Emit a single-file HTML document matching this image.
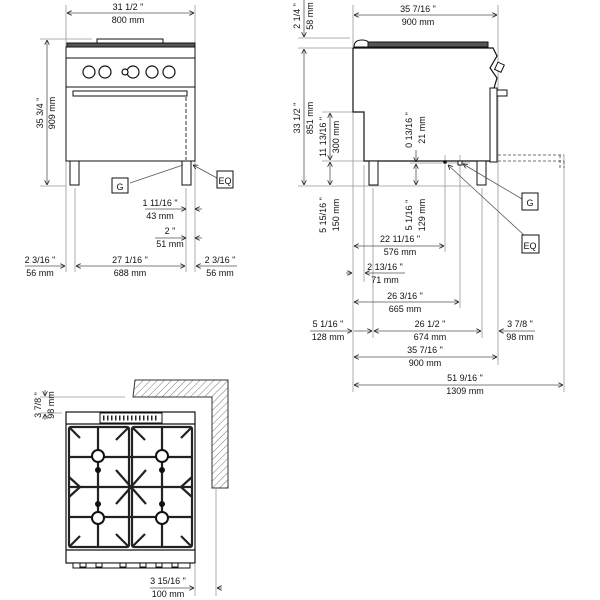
<!DOCTYPE html>
<html><head><meta charset="utf-8"><style>
html,body{margin:0;padding:0;background:#fff}
svg{display:block}
text{font-family:"Liberation Sans",sans-serif;font-size:9px;fill:#111}
.l{stroke:#999;stroke-width:.8;fill:none}
.k{stroke:#111;stroke-width:1.2;fill:none}
.d{stroke:#555;stroke-width:.8;fill:none}
.g{stroke:#222;stroke-width:2.2;fill:none}
</style></head><body>
<svg width="600" height="600" viewBox="0 0 600 600" xmlns="http://www.w3.org/2000/svg">
<defs>
<marker id="a" markerWidth="6" markerHeight="6" refX="6" refY="3" orient="auto-start-reverse"><path d="M0,0 L6,3 L0,6" fill="none" stroke="#222" stroke-width="1"/></marker>
<pattern id="h" width="5" height="5" patternUnits="userSpaceOnUse" patternTransform="rotate(45)"><line x1="0" y1="0" x2="0" y2="5" stroke="#555" stroke-width="0.8"/></pattern>
</defs>

<!-- ===== FRONT VIEW ===== -->
<g>
<line class="l" x1="66" y1="5" x2="66" y2="272"/>
<line class="l" x1="195" y1="5" x2="195" y2="272"/>
<line class="l" x1="75" y1="188" x2="75" y2="272"/>
<line class="l" x1="186" y1="188" x2="186" y2="272"/>
<line class="l" x1="40" y1="39" x2="92" y2="39"/>
<line class="l" x1="40" y1="186" x2="66" y2="186"/>
<line class="d" x1="67" y1="13" x2="194" y2="13" marker-start="url(#a)" marker-end="url(#a)"/>
<text x="128" y="10" text-anchor="middle">31  1/2 "</text>
<text x="128" y="23" text-anchor="middle" font-size="8">800 mm</text>
<line class="d" x1="47" y1="40" x2="47" y2="185" marker-start="url(#a)" marker-end="url(#a)"/>
<text transform="translate(43,113) rotate(-90)" text-anchor="middle">35  3/4 "</text>
<text transform="translate(55,113) rotate(-90)" text-anchor="middle" font-size="8">909 mm</text>
<!-- body -->
<rect x="97" y="39" width="66" height="5" fill="#fff" stroke="#111"/>
<rect x="67" y="43" width="128" height="4" fill="#555" stroke="#111"/>
<rect x="66" y="47" width="129" height="11" fill="#fff" stroke="#111"/>
<rect x="66" y="58" width="129" height="29" fill="#fff" stroke="#111"/>
<rect x="66" y="87" width="129" height="74" fill="#fff" stroke="#111"/>
<rect x="73" y="91" width="114" height="5" fill="#fff" stroke="#111"/>
<g fill="#fff" stroke="#111" stroke-width="1.2">
<circle cx="89" cy="72" r="6"/><circle cx="105" cy="72" r="6"/><circle cx="133" cy="72" r="6"/><circle cx="152" cy="72" r="6"/><circle cx="169" cy="72" r="6"/>
<circle cx="125" cy="72" r="3"/></g>
<line x1="186" y1="97" x2="186" y2="160" stroke="#999" stroke-width="2" stroke-dasharray="4,2"/>
<rect x="70" y="161" width="9" height="24" fill="#fff" stroke="#111"/>
<rect x="182" y="161" width="9" height="24" fill="#fff" stroke="#111"/>
<line class="d" x1="130" y1="183" x2="183" y2="165"/>
<line class="d" x1="217" y1="178" x2="193" y2="165" marker-end="url(#a)"/>
<rect x="112" y="178" width="16" height="15" fill="#fff" stroke="#111"/>
<text x="120" y="190" text-anchor="middle" font-size="11">G</text>
<rect x="217" y="171" width="16" height="17" fill="#fff" stroke="#111"/>
<text x="225" y="184" text-anchor="middle" font-size="11">EQ</text>
<!-- small dims -->
<line class="d" x1="145" y1="209" x2="186" y2="209" marker-end="url(#a)"/>
<line class="d" x1="202" y1="209" x2="195" y2="209" marker-end="url(#a)"/>
<text x="160" y="206" text-anchor="middle">1  11/16 "</text>
<text x="160" y="219" text-anchor="middle" font-size="8">43 mm</text>
<line class="d" x1="155" y1="238" x2="186" y2="238" marker-end="url(#a)"/>
<line class="d" x1="202" y1="238" x2="195" y2="238" marker-end="url(#a)"/>
<text x="170" y="234" text-anchor="middle">2 "</text>
<text x="170" y="247" text-anchor="middle" font-size="8">51 mm</text>
<line class="d" x1="25" y1="266" x2="65" y2="266" marker-end="url(#a)"/>
<line class="d" x1="76" y1="266" x2="185" y2="266" marker-start="url(#a)" marker-end="url(#a)"/>
<line class="d" x1="237" y1="266" x2="196" y2="266" marker-end="url(#a)"/>
<text x="40" y="263" text-anchor="middle">2  3/16 "</text>
<text x="40" y="276" text-anchor="middle" font-size="8">56 mm</text>
<text x="130" y="263" text-anchor="middle">27  1/16 "</text>
<text x="130" y="276" text-anchor="middle" font-size="8">688 mm</text>
<text x="220" y="263" text-anchor="middle">2  3/16 "</text>
<text x="220" y="276" text-anchor="middle" font-size="8">56 mm</text>
</g>

<!-- ===== SIDE VIEW ===== -->
<g>
<line class="l" x1="353" y1="5" x2="353" y2="392"/>
<line class="l" x1="498" y1="5" x2="498" y2="365"/>
<line class="l" x1="364" y1="165" x2="364" y2="282"/>
<line class="l" x1="373" y1="188" x2="373" y2="338"/>
<line class="l" x1="445" y1="155" x2="445" y2="252"/>
<line class="l" x1="460" y1="155" x2="460" y2="308"/>
<line class="l" x1="482" y1="188" x2="482" y2="338"/>
<line class="l" x1="564" y1="155" x2="564" y2="392"/>
<line class="l" x1="298" y1="38" x2="350" y2="38"/>
<line class="l" x1="298" y1="48" x2="353" y2="48"/>
<line class="l" x1="322" y1="112" x2="353" y2="112"/>
<line class="l" x1="298" y1="186" x2="470" y2="186"/>
<line class="l" x1="322" y1="161" x2="370" y2="161"/>
<line class="l" x1="410" y1="163" x2="470" y2="163"/>
<line class="d" x1="354" y1="15" x2="497" y2="15" marker-start="url(#a)" marker-end="url(#a)"/>
<text x="418" y="12" text-anchor="middle">35  7/16 "</text>
<text x="418" y="25" text-anchor="middle" font-size="8">900 mm</text>
<line class="d" x1="304" y1="0" x2="304" y2="37" marker-end="url(#a)"/>
<line class="d" x1="304" y1="49" x2="304" y2="185" marker-start="url(#a)" marker-end="url(#a)"/>
<text transform="translate(300,16) rotate(-90)" text-anchor="middle">2  1/4 "</text>
<text transform="translate(313,16) rotate(-90)" text-anchor="middle" font-size="8">58 mm</text>
<text transform="translate(300,118) rotate(-90)" text-anchor="middle">33  1/2 "</text>
<text transform="translate(313,118) rotate(-90)" text-anchor="middle" font-size="8">851 mm</text>
<line class="d" x1="330" y1="113" x2="330" y2="160" marker-start="url(#a)" marker-end="url(#a)"/>
<line class="d" x1="330" y1="162" x2="330" y2="185" marker-start="url(#a)" marker-end="url(#a)"/>
<text transform="translate(326,137) rotate(-90)" text-anchor="middle">11  13/16 "</text>
<text transform="translate(339,137) rotate(-90)" text-anchor="middle" font-size="8">300 mm</text>
<text transform="translate(326,215) rotate(-90)" text-anchor="middle">5  15/16 "</text>
<text transform="translate(339,215) rotate(-90)" text-anchor="middle" font-size="8">150 mm</text>
<line class="d" x1="416" y1="150" x2="416" y2="162" marker-end="url(#a)"/>
<line class="d" x1="416" y1="164" x2="416" y2="185" marker-start="url(#a)" marker-end="url(#a)"/>
<text transform="translate(412,130) rotate(-90)" text-anchor="middle">0  13/16 "</text>
<text transform="translate(425,130) rotate(-90)" text-anchor="middle" font-size="8">21 mm</text>
<text transform="translate(412,215) rotate(-90)" text-anchor="middle">5  1/16 "</text>
<text transform="translate(425,215) rotate(-90)" text-anchor="middle" font-size="8">129 mm</text>
<!-- body -->
<path d="M354,47 Q354,40 362,40 Q370,40 370,47 Z" fill="#fff" stroke="#111"/>
<rect x="368" y="42" width="120" height="5" fill="#555" stroke="#111"/>
<path class="k" d="M353,48 L493,48 L497,56 L490,68 L497,78 L494,88"/>
<path class="k" d="M353,48 L353,112 L364,112 L364,161 L490,161"/>
<rect x="490" y="88" width="7" height="74" fill="#fff" stroke="#111"/>
<rect x="497" y="90" width="10" height="6" fill="#fff" stroke="#111"/>
<rect x="496" y="63" width="7" height="8" fill="#fff" stroke="#111" transform="rotate(25 499 67)"/>
<rect x="369" y="161" width="9" height="24" fill="#fff" stroke="#111"/>
<rect x="477" y="161" width="9" height="24" fill="#fff" stroke="#111"/>
<circle cx="445" cy="162" r="1.8" fill="#111"/>
<rect x="458" y="161" width="4" height="4" fill="#fff" stroke="#111"/>
<path d="M498,155 L564,155 M498,161 L564,161 M560,155 L560,168 M564,161 L564,168" stroke="#444" stroke-width=".8" stroke-dasharray="3,2" fill="none"/>
<line class="d" x1="522" y1="199" x2="463" y2="164" marker-end="url(#a)"/>
<line class="d" x1="525" y1="236" x2="448" y2="165" marker-end="url(#a)"/>
<rect x="522" y="193" width="16" height="17" fill="#fff" stroke="#111"/>
<text x="530" y="206" text-anchor="middle" font-size="11">G</text>
<rect x="522" y="235" width="17" height="18" fill="#fff" stroke="#111"/>
<text x="530" y="249" text-anchor="middle" font-size="11">EQ</text>
<!-- bottom dims -->
<line class="d" x1="354" y1="246" x2="444" y2="246" marker-start="url(#a)" marker-end="url(#a)"/>
<text x="400" y="242" text-anchor="middle">22  11/16 "</text>
<text x="400" y="255" text-anchor="middle" font-size="8">576 mm</text>
<line class="d" x1="346" y1="273" x2="352" y2="273" marker-end="url(#a)"/>
<line class="d" x1="405" y1="273" x2="365" y2="273" marker-end="url(#a)"/>
<text x="385" y="270" text-anchor="middle">2  13/16 "</text>
<text x="385" y="283" text-anchor="middle" font-size="8">71 mm</text>
<line class="d" x1="354" y1="302" x2="459" y2="302" marker-start="url(#a)" marker-end="url(#a)"/>
<text x="405" y="299" text-anchor="middle">26  3/16 "</text>
<text x="405" y="312" text-anchor="middle" font-size="8">665 mm</text>
<line class="d" x1="310" y1="331" x2="352" y2="331" marker-end="url(#a)"/>
<line class="d" x1="354" y1="331" x2="372" y2="331" marker-end="url(#a)"/>
<line class="d" x1="374" y1="331" x2="481" y2="331" marker-start="url(#a)" marker-end="url(#a)"/>
<line class="d" x1="535" y1="331" x2="499" y2="331" marker-end="url(#a)"/>
<text x="328" y="327" text-anchor="middle">5  1/16 "</text>
<text x="328" y="340" text-anchor="middle" font-size="8">128 mm</text>
<text x="430" y="327" text-anchor="middle">26  1/2 "</text>
<text x="430" y="340" text-anchor="middle" font-size="8">674 mm</text>
<text x="520" y="327" text-anchor="middle">3  7/8 "</text>
<text x="520" y="340" text-anchor="middle" font-size="8">98 mm</text>
<line class="d" x1="354" y1="357" x2="497" y2="357" marker-start="url(#a)" marker-end="url(#a)"/>
<text x="425" y="353" text-anchor="middle">35  7/16 "</text>
<text x="425" y="366" text-anchor="middle" font-size="8">900 mm</text>
<line class="d" x1="354" y1="385" x2="563" y2="385" marker-start="url(#a)" marker-end="url(#a)"/>
<text x="465" y="381" text-anchor="middle">51  9/16 "</text>
<text x="465" y="394" text-anchor="middle" font-size="8">1309 mm</text>
</g>

<!-- ===== TOP VIEW ===== -->
<g>
<path d="M135,380 L228,380 L228,488 L212,488 L212,397 L133,397 Z" fill="url(#h)" stroke="#333" stroke-width="1"/>
<line class="l" x1="40" y1="397" x2="125" y2="397"/>
<line class="l" x1="40" y1="413" x2="62" y2="413"/>
<line class="d" x1="45" y1="390" x2="45" y2="396" marker-end="url(#a)"/>
<line class="d" x1="45" y1="420" x2="45" y2="414" marker-end="url(#a)"/>
<text transform="translate(41,405) rotate(-90)" text-anchor="middle">3  7/8 "</text>
<text transform="translate(54,405) rotate(-90)" text-anchor="middle" font-size="8">98 mm</text>
<rect x="66" y="412" width="129" height="151" fill="#fff" stroke="#111" stroke-width="1.2"/>
<line class="k" x1="66" y1="424" x2="195" y2="424"/>
<rect x="100" y="413" width="62" height="10" fill="#fff" stroke="#111"/>
<path d="M103,418 H159" stroke="#222" stroke-width="5" stroke-dasharray="1.5,2.5"/>
<g class="g">
<rect x="69" y="427" width="60" height="120" rx="2"/>
<rect x="132" y="427" width="60" height="120" rx="2"/>
<line x1="69" y1="457" x2="192" y2="457"/>
<line x1="69" y1="487" x2="192" y2="487"/>
<line x1="69" y1="517" x2="192" y2="517"/>
<line x1="98" y1="427" x2="98" y2="547"/>
<line x1="162" y1="427" x2="162" y2="547"/>
<line x1="69" y1="427" x2="80" y2="438"/><line x1="129" y1="427" x2="116" y2="440"/>
<line x1="132" y1="427" x2="145" y2="440"/><line x1="192" y1="427" x2="181" y2="438"/>
<line x1="116" y1="470" x2="146" y2="504"/><line x1="146" y1="470" x2="116" y2="504"/>
<line x1="69" y1="477" x2="80" y2="487"/><line x1="69" y1="497" x2="80" y2="487"/>
<line x1="192" y1="477" x2="181" y2="487"/><line x1="192" y1="497" x2="181" y2="487"/>
<line x1="69" y1="547" x2="80" y2="536"/><line x1="129" y1="547" x2="116" y2="534"/>
<line x1="132" y1="547" x2="145" y2="534"/><line x1="192" y1="547" x2="181" y2="536"/>
</g>
<g fill="#fff" stroke="#111" stroke-width="2">
<circle cx="98" cy="456" r="6"/><circle cx="162" cy="456" r="6"/>
<circle cx="98" cy="518" r="6"/><circle cx="162" cy="518" r="6"/></g>
<g fill="#111"><circle cx="98" cy="470" r="3"/><circle cx="162" cy="470" r="3"/><circle cx="98" cy="504" r="3"/><circle cx="162" cy="504" r="3"/></g>
<line class="k" x1="66" y1="550" x2="195" y2="550"/>
<rect x="73" y="563" width="117" height="5" fill="#fff" stroke="#111"/>
<path d="M80,563 v4 h6 v-4 M96,563 v4 h6 v-4 M120,563 v4 h6 v-4 M140,563 v4 h6 v-4 M156,563 v4 h6 v-4 M172,563 v4 h6 v-4" stroke="#111" fill="none"/>
<line class="l" x1="195" y1="563" x2="195" y2="596"/>
<line class="l" x1="216" y1="488" x2="216" y2="596"/>
<line class="d" x1="150" y1="588" x2="194" y2="588" marker-end="url(#a)"/>
<line class="d" x1="222" y1="588" x2="217" y2="588" marker-end="url(#a)"/>
<text x="168" y="584" text-anchor="middle">3  15/16 "</text>
<text x="168" y="597" text-anchor="middle" font-size="8">100 mm</text>
</g>
</svg>
</body></html>
